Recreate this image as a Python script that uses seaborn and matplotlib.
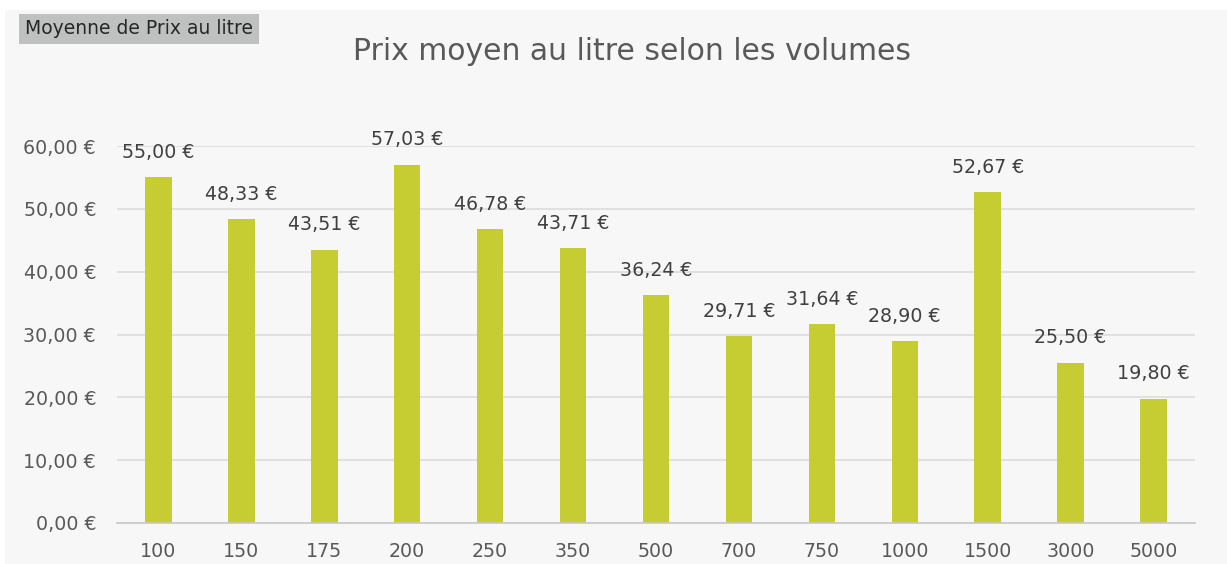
import matplotlib.pyplot as plt
import seaborn as sns
import pandas as pd
from matplotlib.patches import Rectangle

volumes = ["100", "150", "175", "200", "250", "350", "500", "700", "750", "1000", "1500", "3000", "5000"]
prix = [55.00, 48.33, 43.51, 57.03, 46.78, 43.71, 36.24, 29.71, 31.64, 28.90, 52.67, 25.50, 19.80]
yticks = [0, 10, 20, 30, 40, 50, 60]

def euro(v):
    return f"{v:.2f}".replace(".", ",") + " €"

df = pd.DataFrame({"volume": volumes, "prix": prix})

sns.set_style("white")
plt.rcParams["font.family"] = ["DejaVu Sans"]

fig = plt.figure(figsize=(12.27, 5.64), dpi=100, facecolor="white")
fig.patches.append(Rectangle((5 / 1227, 0), 1 - 5 / 1227, 1 - 10 / 564, transform=fig.transFigure,
                             facecolor="#f7f7f7", edgecolor="none", zorder=-10))
ax = fig.add_axes([117 / 1227, 41 / 564, 1078 / 1227, 377 / 564])
ax.set_facecolor("none")

sns.barplot(data=df, x="volume", y="prix", color="#c5cd33", saturation=1, width=0.32,
            linewidth=0, ax=ax)

ax.set_ylim(0, 60)
ax.set_yticks(yticks)
ax.set_yticklabels([euro(v) for v in yticks])
ax.set_xlim(-0.5, len(volumes) - 0.5)
ax.yaxis.grid(True, color="#dcdcdc", linewidth=1.2)
ax.set_axisbelow(True)
for s in ["top", "right", "left"]:
    ax.spines[s].set_visible(False)
ax.spines["bottom"].set_color("#c8c8c8")
ax.spines["bottom"].set_linewidth(1.2)
ax.tick_params(axis="both", length=0, labelsize=13.7, labelcolor="#595959")
ax.tick_params(axis="y", pad=15)
ax.tick_params(axis="x", pad=14)
ax.set_xlabel("")
ax.set_ylabel("")

ax.bar_label(ax.containers[0], labels=[euro(v) for v in prix], padding=11,
             fontsize=13.7, color="#404040")

fig.text(632 / 1227, 1 - 51 / 564, "Prix moyen au litre selon les volumes",
         ha="center", va="center", fontsize=21.5, color="#595959")
fig.text(25 / 1227, 1 - 29 / 564, "Moyenne de Prix au litre", ha="left", va="center",
         fontsize=13.5, color="#262626",
         bbox=dict(boxstyle="square,pad=0.3", facecolor="#bfc1c1", edgecolor="none"))

fig.savefig("out.png", dpi=100, facecolor=fig.get_facecolor())
